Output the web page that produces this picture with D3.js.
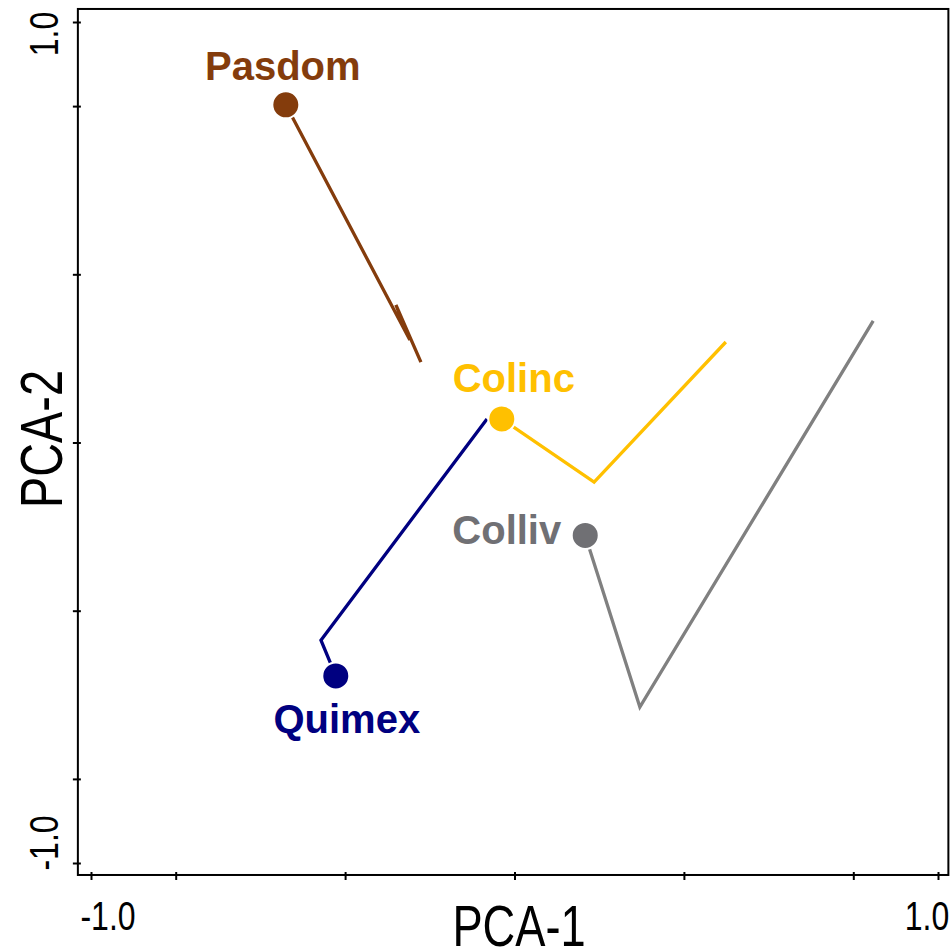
<!DOCTYPE html>
<html>
<head>
<meta charset="utf-8">
<script src="https://cdn.jsdelivr.net/npm/d3@7"></script>
<style>
  html, body { margin: 0; padding: 0; background: #fff; }
  svg { display: block; }
  text { font-family: "Liberation Sans", Arial, sans-serif; }
</style>
</head>
<body>
<svg id="chart" width="951" height="952"></svg>
<script>
// Species trajectories in PCA space (first point = labelled start)
const species = ["Pasdom", "Colinc", "Colliv", "Quimex"];
const pasdomPath = [[-0.540, 0.803], [-0.247, 0.244], [-0.280, 0.327], [-0.221, 0.191]];
const colincPath = [[-0.030, 0.056], [0.188, -0.094], [0.499, 0.239]];
const collivPath = [[0.167, -0.221], [0.296, -0.629], [0.847, 0.289]];
const quimexPath = [[-0.422, -0.555], [-0.457, -0.470], [-0.065, 0.056]];
const paths = [pasdomPath, colincPath, collivPath, quimexPath];

// Axis ticks and labels
const tickValues = [-1, -0.8, -0.4, 0, 0.4, 0.8, 1];
const labelledTicks = [-1, 1];
const tickText = { "-1": "-1.0", "1": "1.0" };
const xTitle = "PCA-1";
const yTitle = "PCA-2";

// Appearance
const lineColors = { Pasdom: "#843c0c", Colinc: "#ffc000", Colliv: "#808080", Quimex: "#000080" };
const dotColors  = { Pasdom: "#843c0c", Colinc: "#ffc000", Colliv: "#707074", Quimex: "#000080" };
const labelPos = {
  Pasdom: { dx: -3, dy: -25, anchor: "middle" },
  Colinc: { dx: 12, dy: -27, anchor: "middle" },
  Colliv: { dx: -24, dy: 9, anchor: "end" },
  Quimex: { dx: 11, dy: 57, anchor: "middle" }
};

const svg = d3.select("#chart");

const x = d3.scaleLinear().domain([-1, 1]).range([91, 938]);
const y = d3.scaleLinear().domain([-1, 1]).range([863, 22]);

// plot frame slightly beyond ±1
const xLim = [-1.031, 1.0245];
const yLim = [-1.0285, 1.031];

// ticks (crossing the frame)
svg.append("g")
  .attr("transform", `translate(0,${y(yLim[0]) - 3})`)
  .call(d3.axisBottom(x).tickValues(tickValues).tickSize(8).tickFormat(""))
  .call(g => g.select(".domain").remove())
  .call(g => g.selectAll("line").attr("stroke", "#000").attr("stroke-width", 2));

svg.append("g")
  .attr("transform", `translate(${x(xLim[0]) + 3},0)`)
  .call(d3.axisLeft(y).tickValues(tickValues).tickSize(8).tickFormat(""))
  .call(g => g.select(".domain").remove())
  .call(g => g.selectAll("line").attr("stroke", "#000").attr("stroke-width", 2));

// frame
svg.append("rect")
  .attr("x", x(xLim[0]))
  .attr("y", y(yLim[1]))
  .attr("width", x(xLim[1]) - x(xLim[0]))
  .attr("height", y(yLim[0]) - y(yLim[1]))
  .attr("fill", "none")
  .attr("stroke", "#000")
  .attr("stroke-width", 2);

// tick labels (only the extremes are labelled)
const xTickShift = { "-1": 17, "1": -11 };
const yTickShift = { "-1": -20, "1": 12 };
labelledTicks.forEach(v => {
  svg.append("text")
    .attr("transform", `translate(${x(v) + xTickShift[v]},930) scale(0.8,1)`)
    .attr("text-anchor", "middle")
    .attr("font-size", 40)
    .attr("fill", "#000")
    .text(tickText[v]);
  svg.append("text")
    .attr("transform", `translate(58,${y(v) + yTickShift[v]}) rotate(-90) scale(0.8,1)`)
    .attr("text-anchor", "middle")
    .attr("font-size", 40)
    .attr("fill", "#000")
    .text(tickText[v]);
});

// axis titles
svg.append("text")
  .attr("transform", `translate(519,946) scale(0.78,1)`)
  .attr("text-anchor", "middle")
  .attr("font-size", 58)
  .attr("fill", "#000")
  .text(xTitle);
svg.append("text")
  .attr("transform", `translate(62,439) rotate(-90) scale(0.78,1)`)
  .attr("text-anchor", "middle")
  .attr("font-size", 60)
  .attr("fill", "#000")
  .text(yTitle);

// trajectories
const line = d3.line().x(d => x(d[0])).y(d => y(d[1]));
species.forEach((s, i) => {
  svg.append("path")
    .datum(paths[i])
    .attr("d", line)
    .attr("fill", "none")
    .attr("stroke", lineColors[s])
    .attr("stroke-width", 3.3)
    .attr("stroke-linejoin", "miter");
});

// start points
species.forEach((s, i) => {
  const p = paths[i][0];
  svg.append("circle")
    .attr("cx", x(p[0]))
    .attr("cy", y(p[1]))
    .attr("r", 13.5)
    .attr("fill", dotColors[s])
    .attr("stroke", "#fff")
    .attr("stroke-width", 2);
});

// species labels
species.forEach((s, i) => {
  const p = paths[i][0];
  const lp = labelPos[s];
  svg.append("text")
    .attr("x", x(p[0]) + lp.dx)
    .attr("y", y(p[1]) + lp.dy)
    .attr("text-anchor", lp.anchor)
    .attr("font-size", 40)
    .attr("font-weight", "bold")
    .attr("fill", dotColors[s])
    .text(s);
});
</script>
</body>
</html>
